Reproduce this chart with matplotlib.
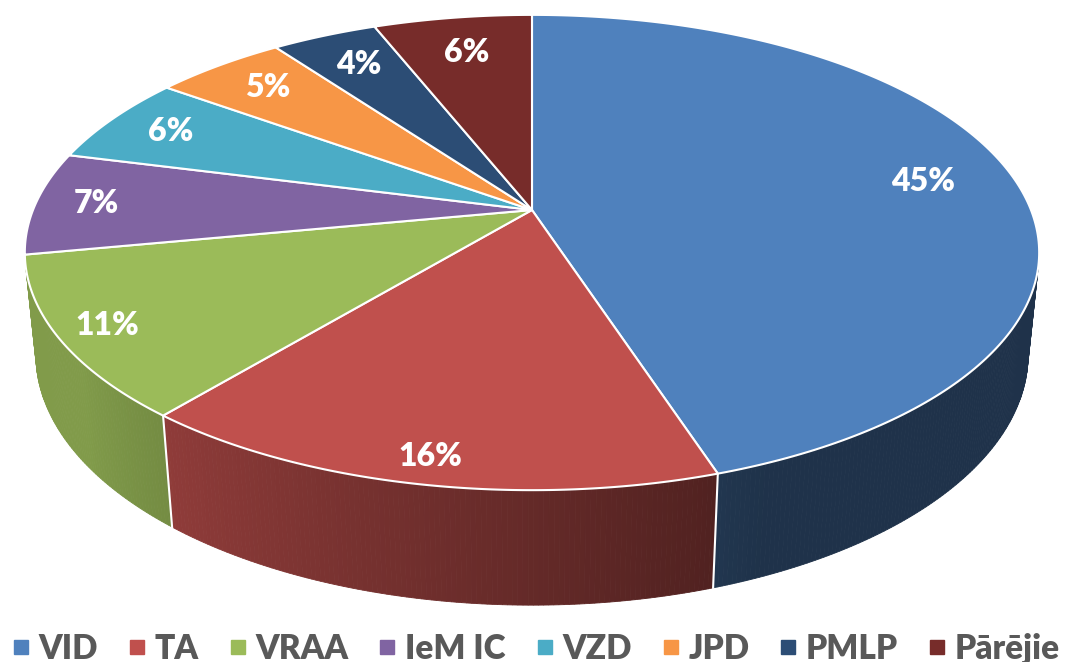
import numpy as np
import matplotlib
matplotlib.use("Agg")
import matplotlib.pyplot as plt
from matplotlib.patches import Polygon
from matplotlib.lines import Line2D

plt.rcParams['font.family'] = ['Lato', 'DejaVu Sans']

# data (clockwise from 12 o'clock)
labels = ["VID", "TA", "VRAA", "IeM IC", "VZD", "JPD", "PMLP", "Pārējie"]
shares = [45, 16, 11, 7, 6, 5, 4, 6]
colors = ["#4F81BD", "#C0504D", "#9BBB59", "#8064A2", "#4BACC6",
          "#F79646", "#2C4D75", "#772C2A"]

# camera for the 3D look
CX, CY = 532, 210          # screen position of the pie centre (px)
SIN_E = 0.461              # elevation of the camera
COS_E = np.sqrt(1 - SIN_E**2)
L = 4.96                   # camera distance (pie radius = 1)
F = 2475                   # focal length (px)
H = 0.2325                 # pie thickness


def project(X, Y, Z):
    depth = L + Y * COS_E - Z * SIN_E
    xs = F * X / depth
    ys = F * (Y * SIN_E + Z * COS_E) / depth
    return CX + xs, CY - ys


def rim(t_deg, z=0.0):
    t = np.radians(t_deg)
    return project(np.cos(t), np.sin(t), z)


def shade(hex_color, t_deg):
    # side walls get darker towards the right
    rgb = np.array(matplotlib.colors.to_rgb(hex_color))
    f = np.clip(0.42 + 0.0057 * (-72 - t_deg), 0.39, 0.83)
    return tuple(rgb * f)


fig = plt.figure(figsize=(10.73, 6.62), dpi=100)
ax = fig.add_axes([0, 0, 1, 1])
ax.set_xlim(0, 1073)
ax.set_ylim(662, 0)
ax.axis("off")

total = float(sum(shares))
bounds = 90 - 360 * np.concatenate([[0], np.cumsum(shares)]) / total

# visible part of the side wall
lim = np.degrees(np.arcsin(1 / (L * COS_E)))
vis_lo, vis_hi = -180 + lim, -lim

# side walls
for i in range(len(shares)):
    t_hi, t_lo = bounds[i], bounds[i + 1]
    a, b = max(t_lo, vis_lo), min(t_hi, vis_hi)
    if a >= b:
        continue
    ts = np.linspace(a, b, int((b - a) / 0.5) + 2)
    for t0, t1 in zip(ts[:-1], ts[1:]):
        x0, y0 = rim(t0)
        x1, y1 = rim(t1)
        x2, y2 = rim(t1, -H)
        x3, y3 = rim(t0, -H)
        col = shade(colors[i], 0.5 * (t0 + t1))
        ax.add_patch(Polygon([(x0, y0), (x1, y1), (x2, y2), (x3, y3)],
                             closed=True, facecolor=col, edgecolor=col,
                             lw=0.6, zorder=1))

# white seams on the side wall
for t in bounds:
    tt = ((t + 180) % 360) - 180
    if vis_lo < tt < vis_hi:
        x0, y0 = rim(tt)
        x1, y1 = rim(tt, -H)
        ax.plot([x0, x1], [y0, y1], color="white", lw=1.5, zorder=2)

# top faces
for i in range(len(shares)):
    ts = np.linspace(bounds[i], bounds[i + 1], 200)
    xr, yr = rim(ts)
    pts = [(CX, CY)] + list(zip(xr, yr))
    ax.add_patch(Polygon(pts, closed=True, facecolor=colors[i],
                         edgecolor="white", lw=1.5, zorder=3,
                         joinstyle="round"))

# percentage labels
for i in range(len(shares)):
    mid = np.radians(0.5 * (bounds[i] + bounds[i + 1]))
    r = 0.85 - 0.06 * np.sin(mid) - 0.03 * np.cos(mid)
    lx, ly = project(r * np.cos(mid), r * np.sin(mid), 0)
    ax.text(lx, ly, f"{shares[i]}%", color="white", fontsize=23,
            fontweight="heavy", ha="center", va="center", zorder=5)

handles = [Line2D([], [], marker="s", linestyle="none", markersize=10,
                  markerfacecolor=c, markeredgecolor=c) for c in colors]
leg = fig.legend(handles, labels, loc="lower center", ncol=8,
                 bbox_to_anchor=(0.5, -0.05), frameon=False,
                 handlelength=0.45, handletextpad=0.3, columnspacing=0.95,
                 prop={"size": 24, "weight": "heavy"})
for txt in leg.get_texts():
    txt.set_color("#595959")

fig.savefig("out.png", dpi=100)
